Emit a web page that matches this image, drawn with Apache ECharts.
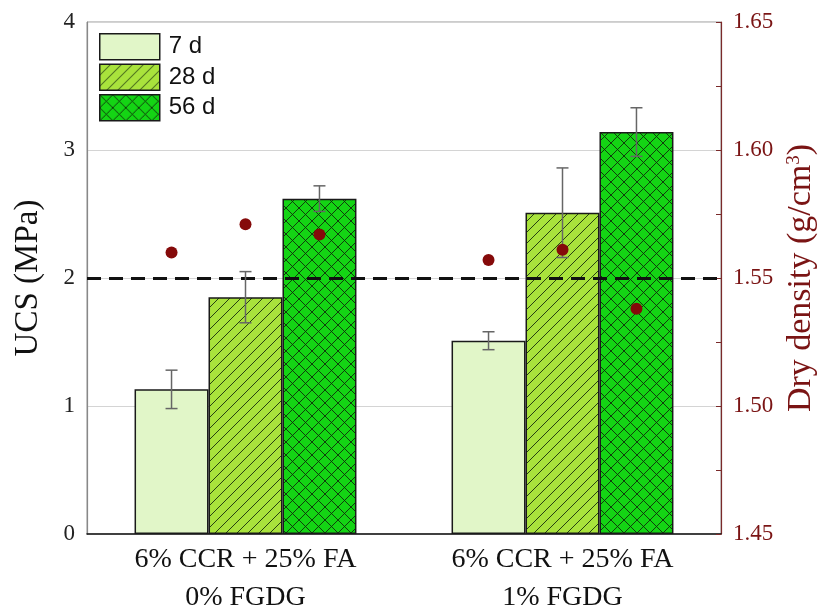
<!DOCTYPE html>
<html>
<head>
<meta charset="utf-8">
<script src="https://cdn.jsdelivr.net/npm/echarts@6/dist/echarts.min.js"></script>
<style>html,body{margin:0;padding:0;background:#fff}#chart{width:831px;height:611px}</style>
</head>
<body>
<div id="chart"></div>
<script>
// ---- data ----
const categories = ['6% CCR + 25% FA\n0% FGDG', '6% CCR + 25% FA\n1% FGDG'];
const seriesNames = ['7 d', '28 d', '56 d'];
const ucs7 = [1.13, 1.51];
const ucs28 = [1.85, 2.51];
const ucs56 = [2.62, 3.14];
const err7 = [0.15, 0.07];
const err28 = [0.20, 0.35];
const err56 = [0.10, 0.19];
const density7 = [1.560, 1.557];
const density28 = [1.571, 1.561];
const density56 = [1.567, 1.538];
const refLineUCS = 2;
const leftTicks = [0, 1, 2, 3, 4];
const rightTicks = [1.45, 1.50, 1.55, 1.60, 1.65];

// ---- patterns ----
function makeTile(bg, lines, s) {
  const c = document.createElement('canvas');
  c.width = s; c.height = s;
  const g = c.getContext('2d');
  g.fillStyle = bg; g.fillRect(0, 0, s, s);
  g.strokeStyle = 'rgba(15,35,10,0.85)';
  g.lineWidth = 1;
  if (lines.includes('/')) {
    g.beginPath();
    g.moveTo(-1, s + 1); g.lineTo(s + 1, -1);
    g.moveTo(-1, 1); g.lineTo(1, -1);
    g.moveTo(s - 1, s + 1); g.lineTo(s + 1, s - 1);
    g.stroke();
  }
  if (lines.includes('\\')) {
    g.beginPath();
    g.moveTo(-1, -1); g.lineTo(s + 1, s + 1);
    g.moveTo(s - 1, -1); g.lineTo(s + 1, 1);
    g.moveTo(-1, s - 1); g.lineTo(1, s + 1);
    g.stroke();
  }
  return { image: c, repeat: 'repeat' };
}
const fill7 = '#E1F6C8';
const fill28 = makeTile('#A9E33C', ['/'], 11);
const fill56 = makeTile('#14D414', ['/', '\\'], 13);
const fills = [fill7, fill28, fill56];

const ucsAll = [ucs7, ucs28, ucs56];
const errAll = [err7, err28, err56];
const densAll = [density7, density28, density56];

const serif = '"Liberation Serif", "Times New Roman", serif';
const sans = '"Liberation Sans", Arial, sans-serif';

function groupOffset(api, k) {
  const band = api.size([1, 0])[0];
  const bw = band * 0.7 / 3;
  return (k - 1) * bw;
}

const errData = [];
const densData = [];
for (let k = 0; k < 3; k++) {
  for (let i = 0; i < categories.length; i++) {
    errData.push([i, ucsAll[k][i], errAll[k][i], k]);
    densData.push([i, densAll[k][i], k]);
  }
}

const series = [];
for (let k = 0; k < 3; k++) {
  series.push({
    name: seriesNames[k],
    type: 'bar',
    data: ucsAll[k],
    barGap: '0%',
    barCategoryGap: '30%',
    itemStyle: { color: fills[k], borderColor: '#1a1a1a', borderWidth: 1.5 },
    z: 2,
    markLine: k === 0 ? {
      silent: true,
      symbol: 'none',
      label: { show: false },
      lineStyle: { color: '#111', type: [14, 8], width: 3 },
      data: [{ yAxis: refLineUCS }]
    } : undefined
  });
}
series.push({
  type: 'custom',
  name: 'err',
  data: errData,
  encode: { x: 0, y: 1 },
  z: 5,
  renderItem: function (params, api) {
    const i = api.value(0), m = api.value(1), e = api.value(2), k = api.value(3);
    const off = groupOffset(api, k);
    const top = api.coord([i, m + e]);
    const bot = api.coord([i, m - e]);
    const x = top[0] + off;
    const cw = 6;
    const st = { stroke: '#666', lineWidth: 1.5 };
    return {
      type: 'group',
      children: [
        { type: 'line', shape: { x1: x, y1: top[1], x2: x, y2: bot[1] }, style: st },
        { type: 'line', shape: { x1: x - cw, y1: top[1], x2: x + cw, y2: top[1] }, style: st },
        { type: 'line', shape: { x1: x - cw, y1: bot[1], x2: x + cw, y2: bot[1] }, style: st }
      ]
    };
  }
});
series.push({
  type: 'custom',
  name: 'density',
  yAxisIndex: 1,
  data: densData,
  encode: { x: 0, y: 1 },
  z: 6,
  renderItem: function (params, api) {
    const i = api.value(0), d = api.value(1), k = api.value(2);
    const off = groupOffset(api, k);
    const p = api.coord([i, d]);
    return {
      type: 'circle',
      shape: { cx: p[0] + off, cy: p[1], r: 6 },
      style: { fill: '#850A0A' }
    };
  }
});

const chart = echarts.init(document.getElementById('chart'), null, { renderer: 'canvas' });
chart.setOption({
  animation: false,
  backgroundColor: '#fff',
  grid: {
    left: 87, right: 110, top: 22, bottom: 77,
    containLabel: false, outerBoundsMode: 'none',
    show: true, borderColor: '#999', borderWidth: 1
  },
  legend: {
    data: seriesNames,
    orient: 'vertical',
    left: 99,
    top: 33,
    padding: 0,
    itemWidth: 60,
    itemHeight: 26,
    itemGap: 3,
    icon: 'rect',
    textStyle: { fontFamily: sans, fontSize: 24, color: '#111', padding: [0, 0, 0, 4] },
    itemStyle: { borderColor: '#1a1a1a', borderWidth: 1.5 }
  },
  xAxis: {
    type: 'category',
    data: categories,
    axisLine: { lineStyle: { color: '#111', width: 1.5 } },
    axisTick: { show: false },
    axisLabel: { fontFamily: serif, fontSize: 28, lineHeight: 38, color: '#111', margin: 7 }
  },
  yAxis: [
    {
      type: 'value',
      min: leftTicks[0],
      max: leftTicks[leftTicks.length - 1],
      interval: 1,
      name: 'UCS (MPa)',
      nameLocation: 'middle',
      nameGap: 42,
      nameTextStyle: { fontFamily: serif, fontSize: 33, color: '#111' },
      axisLine: { show: true, lineStyle: { color: '#888', width: 1.2 } },
      axisTick: { show: false },
      axisLabel: { fontFamily: serif, fontSize: 23, color: '#222', margin: 12 },
      splitLine: { show: true, lineStyle: { color: '#d4d4d4', width: 1 } }
    },
    {
      type: 'value',
      position: 'right',
      min: rightTicks[0],
      max: rightTicks[rightTicks.length - 1],
      interval: 0.05,
      name: 'Dry density (g/cm{sup|3})',
      nameLocation: 'middle',
      nameGap: 63,
      nameRotate: 90,
      nameTextStyle: {
        fontFamily: serif, fontSize: 34, color: '#7A1414',
        rich: { sup: { fontFamily: serif, fontSize: 19, color: '#7A1414', verticalAlign: 'top', padding: [0, 0, 15, 0] } }
      },
      axisLine: { show: true, lineStyle: { color: '#7A2A2A', width: 1.2 } },
      axisTick: { show: true, inside: true, length: 5, lineStyle: { color: '#7A2A2A' } },
      minorTick: { show: true, splitNumber: 2, length: 5, lineStyle: { color: '#7A2A2A' } },
      axisLabel: {
        fontFamily: serif, fontSize: 23, color: '#7A1414', margin: 12,
        formatter: v => v.toFixed(2)
      },
      splitLine: { show: false }
    }
  ],
  series: series
});
</script>
</body>
</html>
